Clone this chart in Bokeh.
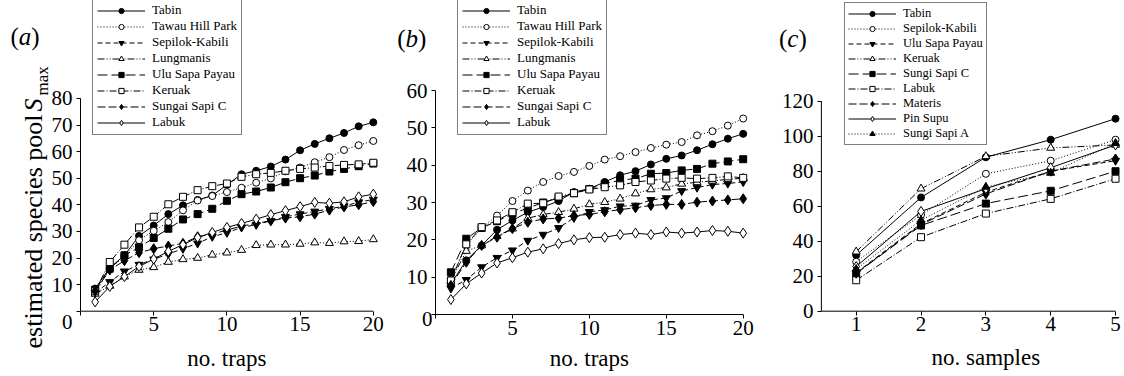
from math import pi
from bokeh.plotting import figure
from bokeh.layouts import row
from bokeh.models import Legend, LegendItem, Label, FixedTicker, LinearAxis
from bokeh.embed import file_html
from bokeh.resources import INLINE

# ---------------- data ----------------
traps = list(range(1, 21))
samples = [1, 2, 3, 4, 5]

site_labels_ab = ["Tabin", "Tawau Hill Park", "Sepilok-Kabili", "Lungmanis",
                  "Ulu Sapa Payau", "Keruak", "Sungai Sapi C", "Labuk"]

a_tabin = [8.5, 16.3, 21, 28.3, 32.2, 36.5, 39.8, 41.8, 43.5, 47.5, 51.5, 52.8, 54.4, 57, 60.5, 62.9, 65, 67, 69.5, 71]
a_tawau = [7, 16, 20.5, 26.7, 30.2, 33.5, 37.9, 41.6, 43.3, 44.8, 46.4, 48.3, 49.9, 52.6, 54, 56, 57.9, 60.6, 62.4, 64]
a_sepilok = [7, 11, 15, 17.5, 19.5, 21.5, 23.5, 25.5, 28, 29.5, 31.5, 32.5, 34, 35.5, 36.5, 37.5, 38.5, 39.5, 41, 42]
a_lungmanis = [6.5, 9.5, 13, 15.5, 16.5, 18.5, 19.5, 20, 21.2, 22, 23, 24.8, 25, 25, 25.3, 25.8, 25.6, 26.2, 26.3, 27]
a_ulu = [8, 16, 21, 24, 27.5, 31, 34.5, 36.5, 38.5, 41.5, 44, 45, 46.5, 48.5, 50, 51, 52.5, 53.5, 54.5, 55.5]
a_keruak = [7.5, 18.5, 25, 31.5, 35.5, 40.2, 43, 45.5, 47, 48, 50.5, 51.5, 52, 52.8, 53.5, 54, 54.6, 55, 55.2, 55.8]
a_sungai = [7.5, 15.5, 19, 22, 23.5, 24.5, 25.5, 28, 29, 30.5, 32, 33, 34, 35, 35.5, 36.5, 38, 39.2, 40, 41.2]
a_labuk = [3.5, 9.3, 13, 16.8, 19.6, 22.5, 25, 27.7, 29.6, 31.5, 33, 34.6, 36.3, 37.8, 39.3, 40.9, 40.6, 41.1, 43, 44]

b_tabin = [8.2, 14.5, 18.5, 22.7, 25.2, 27.4, 28.8, 30.4, 32.8, 33.7, 35.5, 37.3, 38.4, 40.2, 41.7, 42.6, 44, 45.6, 47.1, 48.4]
b_tawau = [9.5, 18.5, 23.2, 26.5, 30.4, 33.2, 35.5, 37.1, 38.2, 39.8, 41.5, 42.4, 43.5, 44.6, 45.5, 46.2, 48, 49.1, 50.6, 52.5]
b_sepilok = [7, 9.3, 12.7, 15.2, 17.2, 19.8, 21.4, 23.2, 25.9, 27.5, 28, 29, 29.2, 30.7, 31.2, 33.1, 34, 34.8, 35.1, 35.5]
b_lungmanis = [9, 17, 18.5, 21, 23, 25.8, 26.8, 27.4, 28.3, 29.5, 30.1, 31, 32.4, 33.5, 34, 35, 35.4, 35.8, 36.2, 36.5]
b_ulu = [11.3, 20.3, 23.2, 25, 27, 28.5, 30, 31.2, 32.5, 33.6, 35, 36, 36.4, 37.7, 37.9, 38.6, 39, 40.4, 41, 41.6]
b_keruak = [9.1, 18.8, 23.4, 25.2, 27.4, 29.7, 29.8, 31.6, 32.5, 33.5, 34.1, 34.6, 35.5, 35.9, 36.4, 36.6, 36.4, 36.6, 37, 36.6]
b_sungai = [7.8, 14, 18.5, 20.7, 23, 24.7, 25.6, 25.8, 26.5, 26.8, 27.5, 28.1, 28.6, 29.2, 29.5, 29.5, 30.1, 30.4, 30.7, 31]
b_labuk = [4, 8.2, 11.1, 13.8, 15.2, 16.7, 17.6, 19, 20, 20.6, 20.7, 21.4, 21.8, 21.4, 22.1, 21.8, 22.1, 22.5, 22.3, 21.8]

site_labels_c = ["Tabin", "Sepilok-Kabili", "Ulu Sapa Payau", "Keruak", "Sungi Sapi C",
                 "Labuk", "Materis", "Pin Supu", "Sungi Sapi A"]
c_tabin = [32, 65, 88, 98, 110]
c_sepilok = [28.3, 55, 78.5, 86, 98]
c_ulu = [22, 50, 68, 80, 86]
c_keruak = [34, 70, 88.5, 93.3, 95]
c_sungic = [21.5, 49, 61.5, 68.8, 80]
c_labuk = [17.7, 42.3, 55.8, 64.2, 75.7]
c_materis = [21.7, 49.5, 67, 80, 87]
c_pinsupu = [25.5, 57, 70, 82, 95]
c_sungia = [24, 52, 71, 79, 96]

a_series = [a_tabin, a_tawau, a_sepilok, a_lungmanis, a_ulu, a_keruak, a_sungai, a_labuk]
b_series = [b_tabin, b_tawau, b_sepilok, b_lungmanis, b_ulu, b_keruak, b_sungai, b_labuk]
c_series = [c_tabin, c_sepilok, c_ulu, c_keruak, c_sungic, c_labuk, c_materis, c_pinsupu, c_sungia]

trap_ticks = [0, 5, 10, 15, 20]
a_yticks = [0, 10, 20, 30, 40, 50, 60, 70, 80]
b_yticks = [0, 10, 20, 30, 40, 50, 60]
c_xticks = [1, 2, 3, 4, 5]
c_yticks = [0, 20, 40, 60, 80, 100, 120]

# ---------------- styles ----------------
FONT = "Liberation Serif"
STYLES = [
    ("circle", "black", "solid", 7),
    ("circle", "white", "1 2", 7),
    ("inverted_triangle", "black", "5 3", 8),
    ("triangle", "white", "7 2 1 2 1 2", 8),
    ("square", "black", "10 4", 7),
    ("square", "white", "7 2 1 2", 7),
    ("diamond", "black", "8 3", 10),
    ("diamond", "white", "solid", 10),
    ("triangle", "black", "1 2", 8),
]
H = 376
BL = 0.38  # shift (in em) between Bokeh's label anchor and the drawn baseline


def make_panel(W, px0, xref, xscale, py0, yscale, x_axis_at, y_axis_at, xlim, ylim,
               xticks, yticks, xs, labels, series, legend_loc, hide_zero, leg_size, leg_pad):
    x_start = xref - px0 / xscale
    x_end = xref + (W - px0) / xscale
    y_start = -(H - py0) / yscale
    y_end = py0 / yscale
    p = figure(width=W, height=H, x_range=(x_start, x_end), y_range=(y_start, y_end),
               output_backend="svg", toolbar_location=None,
               x_axis_location=None, y_axis_location=None,
               min_border=0)
    p.outline_line_color = None
    p.grid.visible = False
    p.background_fill_color = "white"
    p.border_fill_color = "white"

    xa = LinearAxis(fixed_location=x_axis_at)
    ya = LinearAxis(fixed_location=y_axis_at)
    for ax in (xa, ya):
        ax.axis_line_color = None
        ax.major_tick_line_color = "black"
        ax.major_tick_out = 4
        ax.major_tick_in = 0
        ax.minor_tick_line_color = None
        ax.major_label_text_font = FONT
        ax.major_label_text_font_size = "21px"
        ax.major_label_text_color = "black"
    xa.ticker = FixedTicker(ticks=xticks)
    ya.ticker = FixedTicker(ticks=yticks)
    xa.major_label_standoff = 2
    ya.major_label_standoff = 4
    if hide_zero:
        xa.major_label_overrides = {0: ""}
        ya.major_label_overrides = {0: ""}
    p.add_layout(xa, "below")
    p.add_layout(ya, "left")
    p.line([xlim[0], xlim[1]], [x_axis_at, x_axis_at], line_color="black", line_width=1)
    p.line([y_axis_at, y_axis_at], [ylim[0], ylim[1]], line_color="black", line_width=1)

    items = []
    for i, (lab, ys) in enumerate(zip(labels, series)):
        marker, fill, dash, size = STYLES[i]
        rl = p.line(xs, ys, line_color="black", line_width=1, line_dash=dash)
        rm = p.scatter(xs, ys, marker=marker, size=size, fill_color=fill,
                       line_color="black", line_width=1)
        items.append(LegendItem(label=lab, renderers=[rl, rm]))

    leg = Legend(items=items, location=legend_loc)
    leg.border_line_color = "black"
    leg.border_line_width = 1
    leg.background_fill_color = "white"
    leg.background_fill_alpha = 1
    leg.label_text_font = FONT
    leg.label_text_font_size = leg_size
    leg.label_text_color = "black"
    leg.glyph_width = 48
    leg.glyph_height = 13
    leg.label_height = 13
    leg.spacing = 0
    leg.padding = leg_pad
    leg.label_standoff = 7
    leg.margin = 0
    p.add_layout(leg)
    return p


def add_text(p, x, y, text, dx, dy, size, style="normal", align="left", angle=0.0):
    # dx, dy: wanted baseline position relative to the data point, in px (dy up)
    corr = BL * size
    if angle:
        dx = dx - corr
    else:
        dy = dy + corr
    p.add_layout(Label(x=x, y=y, x_offset=dx, y_offset=dy, text=text,
                       text_font=FONT, text_font_size=f"{size}px", text_font_style=style,
                       text_align=align, text_baseline="alphabetic",
                       text_color="black", angle=angle))


# panel (a)
fa = make_panel(392, 80, 0, 14.64, 310.7, 2.66, 0, 0, (0, 20), (0, 80),
                trap_ticks, a_yticks, traps, site_labels_ab, a_series, (92, 241), True,
                "13px", 4)
add_text(fa, 0, 0, "0", -8, -19, 21, align="right")
add_text(fa, 0, 80, "(", -70, 52, 25)
add_text(fa, 0, 80, "a", -61.7, 52, 25, style="italic")
add_text(fa, 0, 80, ")", -49.2, 52, 25)
add_text(fa, 0, 0, "estimated species pool", -37, 196.7, 26, align="right", angle=pi / 2)
add_text(fa, 0, 0, "S", -37, 199.7, 26, style="italic", angle=pi / 2)
add_text(fa, 0, 0, "max", -32, 215.7, 17, angle=pi / 2)
add_text(fa, 10, 0, "no. traps", 0, -56.3, 23, align="center")

# panel (b)
fb = make_panel(370, 43, 0, 15.385, 314, 3.733, 0, 0, (0, 20), (0, 60),
                trap_ticks, b_yticks, traps, site_labels_ab, b_series, (65, 241), True,
                "13px", 4)
add_text(fb, 0, 0, "0", -3, -12.7, 21, align="right")
add_text(fb, 0, 60, "(", -38.3, 42.5, 25)
add_text(fb, 0, 60, "b", -30, 42.5, 25, style="italic")
add_text(fb, 0, 60, ")", -17.5, 42.5, 25)
add_text(fb, 10, 0, "no. traps", 0, -53, 23, align="center")

# panel (c)
fc = make_panel(362, 93.7, 1, 64.83, 310.7, 1.75, 0, 0.463, (0.463, 5), (0, 120),
                c_xticks, c_yticks, samples, site_labels_c, c_series, (82, 231), False,
                "12.5px", 3)
add_text(fc, 0.463, 120, "(", -42.4, 53, 25)
add_text(fc, 0.463, 120, "c", -34.1, 53, 25, style="italic")
add_text(fc, 0.463, 120, ")", -23, 53, 25)
add_text(fc, 3, 0, "no. samples", 0, -55.3, 23, align="center")

layout = row(fa, fb, fc, spacing=0)
open("out.html", "w").write(file_html(layout, INLINE))
